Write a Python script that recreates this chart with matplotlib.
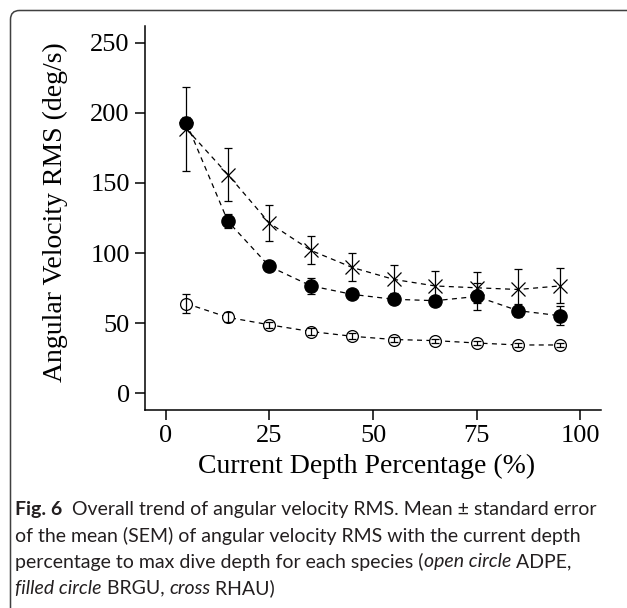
import matplotlib
matplotlib.use("Agg")
import matplotlib.pyplot as plt
from matplotlib.patches import FancyBboxPatch

# mean +- SEM of angular velocity RMS per depth bin
depth = [5, 15, 25, 35, 45, 55, 65, 75, 85, 95]
adpe_mean = [63.9, 54.1, 48.8, 44.0, 40.6, 38.3, 37.5, 35.8, 34.4, 34.4]
adpe_sem = [7.0, 3.5, 2.0, 2.5, 2.0, 1.8, 1.5, 1.5, 1.5, 1.5]
brgu_mean = [192.9, 122.6, 90.5, 76.6, 70.5, 67.0, 66.0, 69.0, 58.9, 55.3]
brgu_sem = [4.0, 5.0, 2.5, 5.8, 2.0, 2.0, 2.0, 9.5, 4.5, 7.0]
rhau_mean = [188.6, 156.0, 121.4, 101.9, 89.7, 81.2, 76.5, 75.2, 74.0, 76.5]
rhau_sem = [30.0, 19.0, 13.0, 10.0, 10.0, 10.0, 11.0, 11.0, 14.5, 12.5]

x_ticks = [0, 25, 50, 75, 100]
y_ticks = [0, 50, 100, 150, 200, 250]

caption = [
    [("Fig. 6", "bold"), ("  Overall trend of angular velocity RMS. Mean \u00b1 standard error", "normal")],
    [("of the mean (SEM) of angular velocity RMS with the current depth", "normal")],
    [("percentage to max dive depth for each species (", "normal"), ("open circle", "italic"),
     (" ADPE,", "normal")],
    [("filled circle", "italic"), (" BRGU, ", "normal"), ("cross", "italic"), (" RHAU)", "normal")],
]

serif = "Liberation Serif"
sans = "Lato"
cap_size = 14

W, H = 627, 608
fig = plt.figure(figsize=(W / 100, H / 100), dpi=100)

# rounded frame, only top-left corner is inside the picture
frame = FancyBboxPatch((10.5, -60), 700, H - 10.5 + 60, boxstyle="round,pad=0,rounding_size=9",
                       transform=None, fill=False, edgecolor="#404040", linewidth=1.1)
fig.add_artist(frame)

ax = fig.add_axes([145 / W, 1 - 410 / H, 456 / W, 384 / H])

dash = (4, 3.5)
lw = 0.9

# open circle ADPE
ax.plot(depth, adpe_mean, color="k", lw=lw, ls="--", dashes=dash, zorder=1)
ax.plot(depth, adpe_mean, "o", ms=8.5, mfc="white", mec="k", mew=0.9, zorder=2)
ax.errorbar(depth, adpe_mean, yerr=adpe_sem, fmt="none", ecolor="k", elinewidth=0.9,
            capsize=3.2, capthick=0.9, zorder=3)

# filled circle BRGU
ax.plot(depth, brgu_mean, color="k", lw=lw, ls="--", dashes=dash, zorder=1)
ax.plot(depth, brgu_mean, "o", ms=9.5, mfc="k", mec="k", zorder=2)
ax.errorbar(depth, brgu_mean, yerr=brgu_sem, fmt="none", ecolor="k", elinewidth=0.9,
            capsize=3.2, capthick=0.9, zorder=3)

# cross RHAU
ax.plot(depth, rhau_mean, color="k", lw=lw, ls="--", dashes=dash, zorder=1)
ax.plot(depth, rhau_mean, "x", ms=10, mec="k", mew=0.9, zorder=2)
ax.errorbar(depth, rhau_mean, yerr=rhau_sem, fmt="none", ecolor="k", elinewidth=0.9,
            capsize=3.2, capthick=0.9, zorder=3)

ax.set_xlim(-5, 105)
ax.set_ylim(-12, 262)
ax.set_xticks(x_ticks)
ax.set_yticks(y_ticks)
ax.spines["top"].set_visible(False)
ax.spines["right"].set_visible(False)
for s in ["left", "bottom"]:
    ax.spines[s].set_linewidth(1.1)
ax.tick_params(direction="out", length=7, width=1.1, labelsize=19, pad=4)
for lab in ax.get_xticklabels() + ax.get_yticklabels():
    lab.set_fontfamily(serif)

fig.text(55 / W, 1 - 212 / H, "Angular Velocity RMS (deg/s)", rotation=90, ha="center", va="center",
         fontsize=20, family=serif)
fig.text(367 / W, 1 - 466 / H, "Current Depth Percentage (%)", ha="center", va="center",
         fontsize=20, family=serif)

# caption, drawn run by run so bold / italic parts follow on
renderer = fig.canvas.get_renderer()


def advance(text, style):
    weight = "bold" if style == "bold" else "normal"
    fstyle = "italic" if style == "italic" else "normal"
    t1 = fig.text(0, 0, "|" + text + "|", fontsize=cap_size, family=sans, weight=weight, style=fstyle)
    t2 = fig.text(0, 0, "||", fontsize=cap_size, family=sans, weight=weight, style=fstyle)
    w = t1.get_window_extent(renderer).width - t2.get_window_extent(renderer).width
    t1.remove()
    t2.remove()
    return w


line_y = [510, 536, 562, 588]
for runs, yy in zip(caption, line_y):
    xx = 15
    for text, style in runs:
        fig.text(xx / W, 1 - yy / H, text, fontsize=cap_size, family=sans, va="center", color="#231f20",
                 weight="bold" if style == "bold" else "normal",
                 style="italic" if style == "italic" else "normal")
        xx += advance(text, style)

fig.savefig("out.png", dpi=100)
